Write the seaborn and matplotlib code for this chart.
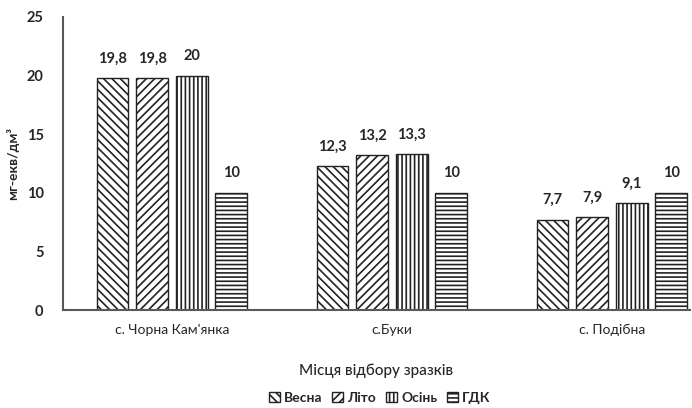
import pandas as pd
import matplotlib.pyplot as plt
import seaborn as sns

# Дані
sites = ["с. Чорна Кам'янка", "с.Буки", "с. Подібна"]
seasons = ["Весна", "Літо", "Осінь", "ГДК"]
vesna = [19.8, 12.3, 7.7]
lito = [19.8, 13.2, 7.9]
osin = [20, 13.3, 9.1]
gdk = [10, 10, 10]
hatches = ["\\\\\\\\", "////", "||||", "----"]

df = pd.DataFrame({
    "site": sites * 4,
    "season": [s for s in seasons for _ in sites],
    "value": vesna + lito + osin + gdk,
})

sns.set_style("white")
plt.rcParams["font.family"] = ["Lato", "DejaVu Sans"]
plt.rcParams["hatch.linewidth"] = 1.2

fig = plt.figure(figsize=(6.92, 4.08), dpi=100)
ax = fig.add_axes([63 / 692, 1 - 310 / 408, 627 / 692, 293 / 408])

sns.barplot(data=df, x="site", y="value", hue="season", hue_order=seasons,
            palette=["white"] * 4, edgecolor="#222222", linewidth=1.0,
            width=0.72, gap=0.2, legend=False, ax=ax)

for cont, h in zip(ax.containers, hatches):
    for p in cont.patches:
        p.set_hatch(h)
    ax.bar_label(cont, labels=[f"{v:g}".replace(".", ",") for v in cont.datavalues],
                 padding=9, fontsize=10.5, fontweight="bold")

ax.set_ylim(0, 25)
ax.set_yticks(range(0, 26, 5))
ax.set_xlim(-0.495, 2.355)
ax.tick_params(axis="y", labelsize=10.5, length=0, pad=14)
ax.tick_params(axis="x", labelsize=10, length=0, pad=10)
for lab in ax.get_yticklabels():
    lab.set_fontweight("bold")

for s in ["top", "right"]:
    ax.spines[s].set_visible(False)
for s in ["left", "bottom"]:
    ax.spines[s].set_color("#595959")
    ax.spines[s].set_linewidth(1.5)

ax.set_xlabel("Місця відбору зразків", fontsize=11, fontweight="medium", labelpad=20)
ax.set_ylabel("мг-екв/дм³", fontsize=10, fontweight="bold", labelpad=5)

ax.legend(ax.containers, seasons, loc="center", bbox_to_anchor=(0.505, -0.30),
          ncol=4, frameon=False, handlelength=0.8, handleheight=0.8,
          handletextpad=0.3, columnspacing=0.7, borderpad=0.2,
          prop={"size": 10, "weight": "bold"})

plt.savefig("out.png", dpi=100)
